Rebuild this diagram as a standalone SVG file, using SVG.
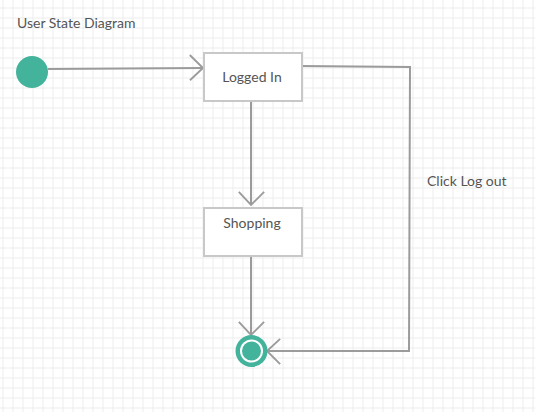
<svg xmlns="http://www.w3.org/2000/svg" width="535" height="412" viewBox="0 0 535 412">
  <style>
    .txt { font-family: Lato, "Liberation Sans", sans-serif; font-size: 14px; fill: #555555; }
    .box { fill: #ffffff; stroke: #c8c8c8; stroke-width: 2; }
    .conn { fill: none; stroke: #9b9b9b; stroke-width: 2; }
    .teal { fill: #44b39c; }
  </style>
  <defs>
    <pattern id="grid" patternUnits="userSpaceOnUse" x="2.5" y="7.5" width="10" height="10">
      <path d="M0.5,0 V10 M0,0.5 H10" fill="none" stroke="#ececec" stroke-width="1"/>
    </pattern>
    <marker id="arrow" markerUnits="userSpaceOnUse" markerWidth="30" markerHeight="30" refX="0" refY="0" viewBox="-16 -16 32 32" orient="auto" overflow="visible">
      <path d="M-14,-14 L0,0 L-14,13" fill="none" stroke="#9b9b9b" stroke-width="2"/>
    </marker>
  </defs>
  <rect width="535" height="412" fill="#ffffff"/>
  <rect width="535" height="412" fill="url(#grid)"/>

  <text class="txt" x="17" y="28">User State Diagram</text>

  <g id="connectors">
    <path class="conn" d="M48,69 L203,68" marker-end="url(#arrow)"/>
    <path class="conn" d="M251,101 L251,205" marker-end="url(#arrow)"/>
    <path class="conn" d="M251,256 L251,335" marker-end="url(#arrow)"/>
    <path class="conn" d="M300,66 L410,67 L409,351 L267,351" marker-end="url(#arrow)"/>
    <text class="txt" x="427" y="186">Click Log out</text>
  </g>

  <g id="start">
    <circle class="teal" cx="32" cy="72" r="16"/>
  </g>

  <g id="logged-in">
    <rect class="box" x="204" y="53" width="98" height="48"/>
    <text class="txt" x="252" y="82" text-anchor="middle">Logged In</text>
  </g>

  <g id="shopping">
    <rect class="box" x="204" y="208" width="98" height="48"/>
    <text class="txt" x="252" y="228" text-anchor="middle">Shopping</text>
  </g>

  <g id="end">
    <circle class="teal" cx="251.5" cy="351" r="16"/>
    <circle cx="251.5" cy="351" r="10.5" fill="none" stroke="#ffffff" stroke-width="2"/>
  </g>
</svg>
